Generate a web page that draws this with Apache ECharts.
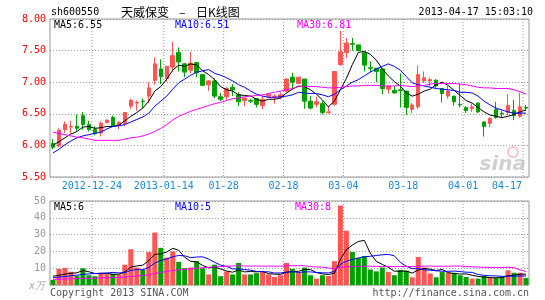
<!DOCTYPE html>
<html><head><meta charset="utf-8">
<script src="https://cdn.jsdelivr.net/npm/echarts@6/dist/echarts.min.js"></script>
<style>html,body{margin:0;padding:0;background:#fff}#c{width:545px;height:300px}</style>
</head><body><div id="c"></div>
<script>
const dates = ['2012-12-13','2012-12-14','2012-12-17','2012-12-18','2012-12-19','2012-12-20','2012-12-21','2012-12-24','2012-12-25','2012-12-26',
'2012-12-27','2012-12-28','2012-12-31','2013-01-04','2013-01-07','2013-01-08','2013-01-09','2013-01-10','2013-01-11','2013-01-14',
'2013-01-15','2013-01-16','2013-01-17','2013-01-18','2013-01-21','2013-01-22','2013-01-23','2013-01-24','2013-01-25','2013-01-28',
'2013-01-29','2013-01-30','2013-01-31','2013-02-01','2013-02-04','2013-02-05','2013-02-06','2013-02-07','2013-02-08','2013-02-18',
'2013-02-19','2013-02-20','2013-02-21','2013-02-22','2013-02-25','2013-02-26','2013-02-27','2013-02-28','2013-03-01','2013-03-04',
'2013-03-05','2013-03-06','2013-03-07','2013-03-08','2013-03-11','2013-03-12','2013-03-13','2013-03-14','2013-03-15','2013-03-18',
'2013-03-19','2013-03-20','2013-03-21','2013-03-22','2013-03-25','2013-03-26','2013-03-27','2013-03-28','2013-03-29','2013-04-01',
'2013-04-02','2013-04-03','2013-04-08','2013-04-09','2013-04-10','2013-04-11','2013-04-12','2013-04-15','2013-04-16','2013-04-17'];

const opens = [6.03,5.99,6.25,6.29,6.30,6.47,6.33,6.25,6.20,6.36,
6.44,6.31,6.35,6.62,6.67,6.70,6.78,7.03,7.21,7.06,
7.24,7.47,7.29,7.19,7.31,7.12,6.96,7.02,6.77,6.77,
6.92,6.80,6.71,6.71,6.74,6.63,6.77,6.77,6.76,6.86,
7.08,6.98,7.05,6.70,6.65,6.66,6.52,6.65,7.28,7.47,
7.61,7.59,7.47,7.23,7.22,7.21,6.89,6.87,6.88,6.86,
6.57,6.61,7.02,7.02,7.03,6.90,6.78,6.78,6.65,6.60,
6.58,6.67,6.37,6.35,6.57,6.51,6.52,6.55,6.46,6.60];
const closes = [5.97,6.24,6.33,6.30,6.27,6.33,6.25,6.19,6.35,6.40,
6.31,6.36,6.52,6.71,6.68,6.69,6.91,7.29,7.09,7.25,
7.42,7.32,7.16,7.30,7.15,6.95,7.02,6.78,6.73,6.90,
6.88,6.69,6.75,6.70,6.65,6.73,6.81,6.78,6.80,7.05,
7.00,7.08,6.70,6.59,6.69,6.52,6.53,7.17,7.48,7.62,
7.60,7.50,7.27,7.22,7.17,6.90,6.94,6.83,6.87,6.60,
6.64,7.12,7.07,7.04,6.94,6.82,6.86,6.69,6.64,6.55,
6.61,6.53,6.30,6.43,6.44,6.50,6.63,6.47,6.61,6.59];
const lows = [5.94,5.97,6.20,6.19,6.23,6.25,6.22,6.16,6.14,6.35,
6.29,6.26,6.30,6.58,6.55,6.58,6.67,6.96,6.97,7.01,
7.17,7.17,7.08,7.14,7.08,6.94,6.86,6.75,6.70,6.72,
6.78,6.62,6.62,6.67,6.60,6.57,6.76,6.66,6.73,6.84,
6.89,6.97,6.58,6.57,6.60,6.49,6.50,6.63,7.26,7.38,
7.50,7.49,7.17,7.16,7.00,6.81,6.82,6.82,6.60,6.48,
6.51,6.58,6.99,6.93,6.91,6.68,6.74,6.63,6.60,6.51,
6.53,6.51,6.14,6.29,6.42,6.45,6.48,6.40,6.44,6.55];
const highs = [6.10,6.27,6.38,6.39,6.49,6.53,6.39,6.30,6.38,6.41,
6.47,6.39,6.53,6.74,6.71,6.74,7.00,7.39,7.36,7.26,
7.64,7.55,7.30,7.48,7.31,7.12,7.03,7.06,6.83,6.92,
6.97,6.84,6.75,6.74,6.75,6.78,6.83,6.81,6.84,7.06,
7.15,7.08,7.05,6.78,6.77,6.70,6.62,7.17,7.81,7.70,
7.70,7.59,7.47,7.33,7.22,7.21,6.94,6.94,7.14,6.86,
6.67,7.26,7.17,7.07,7.05,6.90,6.94,6.78,6.98,6.62,
6.66,6.68,6.38,6.44,6.69,6.55,6.81,6.72,6.83,6.64];

const ma5 = [6.00,6.06,6.12,6.18,6.22,6.29,6.30,6.27,6.28,6.30,
6.30,6.32,6.39,6.46,6.52,6.59,6.70,6.86,6.93,7.05,
7.19,7.27,7.25,7.29,7.27,7.18,7.12,7.04,6.93,6.88,
6.86,6.80,6.79,6.78,6.73,6.70,6.73,6.73,6.75,6.83,
6.89,6.94,6.93,6.88,6.81,6.72,6.61,6.70,6.88,7.06,
7.28,7.47,7.49,7.44,7.35,7.21,7.10,7.01,6.94,6.83,
6.78,6.81,6.86,6.89,6.96,7.00,6.95,6.87,6.79,6.71,
6.67,6.60,6.53,6.48,6.46,6.44,6.46,6.49,6.53,6.56];
const ma10 = [5.88,5.94,6.01,6.07,6.12,6.15,6.17,6.19,6.21,6.26,
6.30,6.31,6.33,6.37,6.41,6.45,6.51,6.62,6.70,6.78,
6.89,6.99,7.05,7.11,7.16,7.18,7.20,7.14,7.11,7.07,
7.02,6.96,6.92,6.86,6.81,6.78,6.76,6.76,6.77,6.78,
6.80,6.84,6.83,6.82,6.82,6.80,6.77,6.81,6.88,6.94,
7.00,7.04,7.10,7.16,7.21,7.25,7.29,7.25,7.19,7.09,
6.99,6.96,6.94,6.92,6.90,6.89,6.88,6.87,6.84,6.84,
6.83,6.78,6.70,6.64,6.59,6.56,6.53,6.51,6.51,6.51];
const ma30 = [6.21,6.19,6.17,6.15,6.13,6.12,6.10,6.08,6.08,6.08,
6.08,6.08,6.10,6.12,6.13,6.15,6.18,6.22,6.27,6.33,
6.40,6.46,6.50,6.54,6.57,6.60,6.63,6.66,6.68,6.71,
6.74,6.75,6.77,6.78,6.79,6.80,6.82,6.84,6.86,6.88,
6.90,6.93,6.93,6.93,6.93,6.92,6.91,6.91,6.92,6.93,
6.94,6.94,6.95,6.95,6.95,6.94,6.94,6.94,6.95,6.94,
6.93,6.94,6.95,6.97,6.98,6.98,6.98,6.98,6.97,6.96,
6.94,6.92,6.91,6.91,6.90,6.90,6.90,6.88,6.85,6.81];

const volumes = [3.0,9.6,10.2,7.9,5.5,10.0,5.8,5.2,7.3,6.7,
6.7,6.3,12.1,21.3,10.4,9.0,19.6,31.2,22.1,16.3,
20.0,13.8,10.0,10.4,14.2,10.0,6.3,12.1,5.2,8.1,
6.3,13.1,6.3,6.3,7.1,7.7,6.3,4.8,5.8,13.1,
9.6,7.3,10.4,5.8,3.8,5.8,5.4,14.2,47.3,32.3,
19.6,16.2,17.3,9.2,8.1,10.4,7.7,5.8,9.0,8.5,
4.6,16.7,10.4,6.9,4.6,7.7,7.3,7.3,5.8,4.8,
3.8,3.8,5.4,4.2,4.2,4.8,8.7,7.3,7.3,4.2];
const volMa5 = [5.2,5.8,6.5,7.0,7.24,8.64,7.88,6.88,6.76,7.0,
6.34,6.44,7.82,10.62,11.36,11.82,14.48,18.3,18.46,19.64,
21.84,20.68,16.44,14.1,13.68,11.68,10.18,10.6,9.56,8.34,
7.6,8.96,7.8,8.02,7.82,8.1,6.74,6.44,6.34,7.54,
7.92,8.12,9.24,9.24,7.38,6.62,6.24,7.0,15.3,21.0,
23.76,25.92,26.54,18.92,14.08,12.24,10.54,8.24,8.2,8.28,
7.12,8.92,9.84,9.42,8.64,9.26,7.38,6.76,6.54,6.58,
5.8,5.1,4.72,4.4,4.28,4.48,5.46,5.84,6.46,6.46];
const volMa10 = [4.3,4.7,5.1,5.5,5.9,6.3,6.6,6.8,7.0,7.12,
7.49,7.16,7.35,8.69,9.18,9.08,10.46,13.06,14.54,15.5,
16.83,17.58,17.37,16.28,16.66,16.76,15.43,13.52,11.83,11.01,
9.64,9.57,9.2,8.79,8.08,7.85,7.85,7.12,7.18,7.68,
8.01,7.43,7.84,7.79,7.46,7.27,7.18,8.12,12.27,14.19,
15.19,16.08,16.77,17.11,17.54,18.0,18.23,17.39,13.56,11.18,
9.68,9.73,9.04,8.81,8.46,8.19,8.15,8.3,7.98,7.61,
7.53,6.24,5.74,5.47,5.43,5.14,5.28,5.28,5.43,5.37];
const volMa30 = [3.3,3.4,3.6,3.7,3.8,3.9,4.0,4.1,4.2,4.3,
4.4,4.5,4.7,5.1,5.4,5.6,6.1,6.9,7.5,8.0,
8.6,9.0,9.3,9.6,10.0,10.3,10.6,10.8,11.0,11.21,
11.32,11.44,11.31,11.25,11.31,11.23,11.25,11.23,11.18,11.4,
11.49,11.53,11.47,10.95,10.73,10.63,10.15,9.59,10.43,10.96,
10.95,11.03,11.27,11.23,11.03,11.04,11.09,10.88,11.0,11.02,
10.96,11.08,11.22,11.24,11.15,11.15,11.19,11.27,11.27,10.99,
10.8,10.68,10.52,10.46,10.48,10.44,10.55,10.32,8.99,8.05];

const dateTickIdx = [7,19,29,39,49,59,69,79];
const dateTickLabels = ['2012-12-24','2013-01-14','01-28','02-18','03-04','03-18','04-01','04-17'];
const priceMaLabels = ['MA5:6.55','MA10:6.51','MA30:6.81'];
const volMaLabels = ['MA5:6','MA10:5','MA30:8'];
const headerTexts = ['sh600550','天威保变','–','日K线图','2013-04-17 15:03:10'];
const footerTexts = ['Copyright 2013 SINA.COM','http://finance.sina.com.cn'];
const volUnit = 'x万';

const MONO = '"DejaVu Sans Mono", monospace';
const CJK = '"Noto Sans CJK SC", sans-serif';
const RED = '#ff5555', GREEN = '#00a000';
const GRIDC = '#9a9a9a';
const tickSet = new Set(dateTickIdx);
const labelFor = {};
dateTickIdx.forEach((k, j) => { labelFor[k] = dateTickLabels[j]; });
const candleData = opens.map((o, i) => [o, closes[i], lows[i], highs[i]]);
const lastIdx = dates.length - 1;

const chart = echarts.init(document.getElementById('c'));
const gridLine = {show: true, lineStyle: {color: GRIDC, type: [1, 2], width: 1}};
const lbl = {fontFamily: MONO, fontSize: 10, color: '#1a8ad4'};

function txt(text, x, y, fill, font, align) {
  return {type: 'text', x: x, y: y, z: 50, style: {text: text, fill: fill, font: font, align: align || 'left', verticalAlign: 'middle'}};
}
// vertical grid lines at the band boundary before each labelled date
function vLines(xAxisIndex, yAxisIndex, yRef) {
  return {type: 'custom', xAxisIndex: xAxisIndex, yAxisIndex: yAxisIndex,
    data: dateTickIdx.slice(),
    renderItem: function (params, api) {
      const cs = params.coordSys;
      const x = api.coord([api.value(0), yRef])[0];
      return {type: 'line',
        shape: {x1: x, y1: cs.y, x2: x, y2: cs.y + cs.height},
        style: {stroke: '#999', lineWidth: 1, lineDash: [1, 2]}};
    }};
}
const boundaryAxis = (g) => ({type: 'value', gridIndex: g, min: 0, max: 80, show: false});

const option = {
  animation: false,
  backgroundColor: '#fff',
  grid: [
    {left: 50, top: 19, width: 479, height: 158, show: true, borderColor: '#999'},
    {left: 50, top: 201, width: 479, height: 84, show: true, borderColor: '#999'}
  ],
  xAxis: [
    {type: 'category', gridIndex: 0, data: dates,
     axisLine: {show: false}, axisTick: {show: false},
     axisLabel: {interval: (i) => tickSet.has(i), margin: 4,
       formatter: (v, i) => (i === lastIdx ? '{e|' : '{n|') + labelFor[i] + '}',
       rich: {n: Object.assign({padding: [0, 6, 0, 0]}, lbl), e: Object.assign({padding: [0, 38, 0, 0]}, lbl)}},
     splitLine: {show: false}},
    {type: 'category', gridIndex: 1, data: dates,
     axisLine: {show: false}, axisTick: {show: false}, axisLabel: {show: false},
     splitLine: {show: false}},
    boundaryAxis(0),
    boundaryAxis(1)
  ],
  yAxis: [
    {type: 'value', gridIndex: 0, min: 5.5, max: 8, interval: 0.5,
     axisLine: {show: false}, axisTick: {show: false},
     axisLabel: {formatter: (v) => v.toFixed(2), color: '#ff0000', fontFamily: MONO, fontSize: 10, margin: 4},
     splitLine: gridLine},
    {type: 'value', gridIndex: 1, min: 0, max: 50, interval: 10,
     axisLine: {show: false}, axisTick: {show: false},
     axisLabel: {formatter: (v) => v === 0 ? '' : String(v), color: '#999', fontFamily: MONO, fontSize: 10, margin: 4},
     splitLine: gridLine}
  ],
  series: [
    {type: 'candlestick', xAxisIndex: 0, yAxisIndex: 0, data: candleData, barWidth: 4,
     itemStyle: {color: RED, color0: GREEN, borderColor: RED, borderColor0: GREEN, borderWidth: 1}},
    {type: 'line', xAxisIndex: 0, yAxisIndex: 0, data: ma5, showSymbol: false, symbol: 'none', lineStyle: {color: '#000', width: 1}},
    {type: 'line', xAxisIndex: 0, yAxisIndex: 0, data: ma10, showSymbol: false, symbol: 'none', lineStyle: {color: '#0000ff', width: 1}},
    {type: 'line', xAxisIndex: 0, yAxisIndex: 0, data: ma30, showSymbol: false, symbol: 'none', lineStyle: {color: '#ff00ff', width: 1}},
    {type: 'bar', xAxisIndex: 1, yAxisIndex: 1, data: volumes, barWidth: 5,
     itemStyle: {color: (p) => closes[p.dataIndex] >= opens[p.dataIndex] ? RED : GREEN}},
    {type: 'line', xAxisIndex: 1, yAxisIndex: 1, data: volMa5, showSymbol: false, symbol: 'none', lineStyle: {color: '#000', width: 1}},
    {type: 'line', xAxisIndex: 1, yAxisIndex: 1, data: volMa10, showSymbol: false, symbol: 'none', lineStyle: {color: '#0000ff', width: 1}},
    {type: 'line', xAxisIndex: 1, yAxisIndex: 1, data: volMa30, showSymbol: false, symbol: 'none', lineStyle: {color: '#ff00ff', width: 1}},
    vLines(2, 0, 6),
    vLines(3, 1, 20)
  ],
  graphic: [
    txt(headerTexts[0], 51, 12, '#000', '10px ' + MONO),
    txt(headerTexts[1], 121, 12, '#000', '12px ' + CJK),
    txt(headerTexts[2], 179, 12, '#000', '12px ' + CJK),
    txt(headerTexts[3], 196, 12, '#000', '12px ' + CJK),
    txt(headerTexts[4], 533, 12, '#000', '10px ' + MONO, 'right'),
    txt(priceMaLabels[0], 54, 25, '#000', '10px ' + MONO),
    txt(priceMaLabels[1], 175, 25, '#0000ff', '10px ' + MONO),
    txt(priceMaLabels[2], 297, 25, '#ff00ff', '10px ' + MONO),
    txt(volMaLabels[0], 54, 207, '#000', '10px ' + MONO),
    txt(volMaLabels[1], 175, 207, '#0000ff', '10px ' + MONO),
    txt(volMaLabels[2], 295, 207, '#ff00ff', '10px ' + MONO),
    txt(volUnit, 45, 286, '#aaa', 'italic 10px ' + MONO, 'right'),
    txt(footerTexts[0], 50, 293, '#555', '10px ' + MONO),
    txt(footerTexts[1], 529, 293, '#555', '10px ' + MONO, 'right'),
    txt('sina', 526, 165, 'rgba(170,170,170,0.55)', 'italic bold 20px "DejaVu Sans", sans-serif', 'right'),
    {type: 'circle', shape: {cx: 513, cy: 152, r: 5}, z: 49, style: {fill: 'none', stroke: 'rgba(240,140,140,0.5)', lineWidth: 2}}
  ]
};
chart.setOption(option);
</script>
</body></html>
